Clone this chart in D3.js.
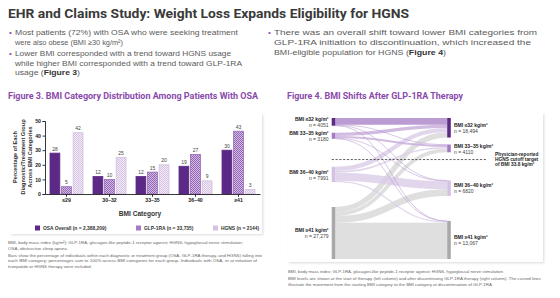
<!DOCTYPE html>
<html><head><meta charset="utf-8">
<script src="https://cdn.jsdelivr.net/npm/d3@7"></script>
<style>
body{margin:0;background:#fff}
svg{display:block}
text{font-family:"Liberation Sans",Arial,sans-serif}
</style>
</head><body><svg id="c" width="560" height="298"></svg>
<script>
// ---------------- DATA ----------------
const categories = ["≤29", "30–32", "33–35", "36–40", "≥41"];
const seriesNames = ["OSA Overall (n = 2,388,209)", "GLP-1RA (n = 33,735)", "HGNS (n = 2144)"];
const osaOverall = [28, 12, 12, 19, 30];
const glp1ra = [5, 10, 15, 27, 43];
const hgns = [42, 25, 20, 9, 3];
const yTicks = [0, 10, 20, 30, 40, 50];

const bmiGroups = ["BMI ≤32 kg/m²", "BMI 33–35 kg/m²", "BMI 36–40 kg/m²", "BMI ≥41 kg/m²"];
const startCounts = ["4051", "3180", "7991", "27,279"];
const endCounts = ["18,494", "4110", "6820", "13,067"];
// estimated flows (start group -> end group), read from band widths
const flowFromLe32 = [3500, 150, 250, 151];
const flowFrom33to35 = [1700, 1100, 250, 130];
const flowFrom36to40 = [2200, 900, 4200, 691];
const flowFromGe41 = [2841, 1946, 3493, 18999];

// ---------------- STYLE ----------------
const PURPLE = "#5c2a86", MID = "#a67bc4", LIGHT = "#d5c1e4", GREY = "#a9a9a9";
const nodeColors = [PURPLE, MID, LIGHT, GREY];
const linkColors = ["#ab85c8", "#c7acdb", "#dccde8", "#d8d8d8"];
const svg = d3.select("#c");

function T(g, x, y, parts, o = {}) {
  const t = g.append("text").attr("x", x).attr("y", y)
    .attr("font-size", o.size || 8).attr("fill", o.fill || "#555")
    .attr("font-weight", o.weight || 400).attr("text-anchor", o.anchor || "start");
  if (o.family) t.style("font-family", o.family);
  (Array.isArray(parts) ? parts : [[parts]]).forEach(p => {
    const s = t.append("tspan").text(p[0]);
    if (p[1]) for (const k in p[1]) s.attr(k, p[1][k]);
  });
  if (o.w) t.attr("textLength", o.w).attr("lengthAdjust", "spacingAndGlyphs");
  return t;
}

const defs = svg.append("defs");
const f = defs.append("filter").attr("id", "sh").attr("x", "-5%").attr("y", "-5%").attr("width", "110%").attr("height", "115%");
f.append("feDropShadow").attr("dx", 1.2).attr("dy", 1.2).attr("stdDeviation", 1).attr("flood-color", "#000").attr("flood-opacity", 0.13);
function pat(id, bg, dot) {
  const p = defs.append("pattern").attr("id", id).attr("width", 2).attr("height", 2).attr("patternUnits", "userSpaceOnUse");
  p.append("rect").attr("width", 2).attr("height", 2).attr("fill", bg);
  p.append("rect").attr("width", 1).attr("height", 1).attr("fill", dot);
  p.append("rect").attr("x", 1).attr("y", 1).attr("width", 1).attr("height", 1).attr("fill", dot);
}
pat("pGlp", "#d2bbe2", "#9466b4");
pat("pHg", "#f3ecf7", "#d6c3e4");

// ---------------- HEADER ----------------
T(svg, 8, 18, "EHR and Claims Study: Weight Loss Expands Eligibility for HGNS",
  { size: 13.5, weight: 700, fill: "#3a3a3a", family: "Roboto", w: 401 });

const bul = (x, y) => svg.append("text").attr("x", x).attr("y", y).attr("font-size", 8).attr("fill", "#8a55ad").text("•");
const BT = { size: 7.6, fill: "#5a5a5a" };
bul(9, 35); T(svg, 15, 35, "Most patients (72%) with OSA who were seeking treatment", { ...BT, w: 223 });
T(svg, 15, 44.5, "were also obese (BMI ≥30 kg/m²)", { ...BT, w: 108 });
bul(9, 56); T(svg, 15, 56, "Lower BMI corresponded with a trend toward HGNS usage", { ...BT, w: 216 });
T(svg, 15, 65.5, "while higher BMI corresponded with a trend toward GLP-1RA", { ...BT, w: 227 });
T(svg, 15, 75, [["usage ("], ["Figure 3", { "font-weight": 700, fill: "#333" }], [")"]], { ...BT, w: 65 });
bul(268, 35); T(svg, 274, 35, "There was an overall shift toward lower BMI categories from", { ...BT, w: 263 });
T(svg, 274, 45, "GLP-1RA initiation to discontinuation, which increased the", { ...BT, w: 257 });
T(svg, 274, 55, [["BMI-eligible population for HGNS ("], ["Figure 4", { "font-weight": 700, fill: "#333" }], [")"]], { ...BT, w: 172 });

T(svg, 8, 99, "Figure 3. BMI Category Distribution Among Patients With OSA",
  { size: 8.6, weight: 700, fill: "#8a4aab", family: "Roboto", w: 250 });
T(svg, 287, 99, "Figure 4. BMI Shifts After GLP-1RA Therapy",
  { size: 8.6, weight: 700, fill: "#8a4aab", family: "Roboto", w: 176 });

// ---------------- FIGURE 3 ----------------
svg.append("rect").attr("x", 10).attr("y", 114).attr("width", 252).attr("height", 120).attr("fill", "#fff").attr("filter", "url(#sh)");
const g3 = svg.append("g");
const x = d3.scaleBand().domain(categories).range([45, 260]);
const xs = d3.scaleBand().domain(seriesNames).range([5, 38]).paddingInner(0.15);
const y = d3.scaleLinear().domain([0, 50]).range([194, 121]);
const seriesVals = [osaOverall, glp1ra, hgns];
const barFill = [PURPLE, "url(#pGlp)", "url(#pHg)"];
const barStroke = [PURPLE, "#9a6bb9", "#d3bfe2"];

seriesNames.forEach((s, si) => {
  const gg = g3.append("g");
  gg.selectAll("rect").data(seriesVals[si]).join("rect")
    .attr("x", (d, i) => x(categories[i]) + xs(s)).attr("width", xs.bandwidth())
    .attr("y", d => y(d)).attr("height", d => y(0) - y(d))
    .attr("fill", barFill[si]).attr("stroke", barStroke[si]).attr("stroke-width", 0.8);
  gg.selectAll("text").data(seriesVals[si]).join("text")
    .attr("x", (d, i) => x(categories[i]) + xs(s) + xs.bandwidth() / 2).attr("y", d => y(d) - 2.5)
    .attr("text-anchor", "middle").attr("font-size", 5).attr("fill", "#444").text(d => d);
});

const ya = g3.append("g").attr("transform", "translate(45,0)")
  .call(d3.axisLeft(y).tickValues(yTicks).tickSize(2.5).tickPadding(1.5));
ya.select(".domain").attr("stroke", "#222").attr("stroke-width", 0.9);
ya.selectAll(".tick line").attr("stroke", "#222").attr("stroke-width", 0.9);
ya.selectAll("text").attr("font-size", 5.2).attr("font-weight", 700).attr("fill", "#222").style("font-family", "Liberation Sans, Arial");
const xa = g3.append("g").attr("transform", "translate(0,194)")
  .call(d3.axisBottom(x).tickSize(2.8).tickPadding(2).tickSizeOuter(0));
xa.select(".domain").attr("stroke", "#222").attr("stroke-width", 0.9);
xa.selectAll(".tick line").attr("stroke", "#222").attr("stroke-width", 0.9);
xa.selectAll("text").attr("font-size", 5.2).attr("font-weight", 700).attr("fill", "#222").style("font-family", "Liberation Sans, Arial");

["Percentage of Each", "Diagnostic/Treatment Group", "Across BMI Categories"].forEach((l, i) => {
  g3.append("text").attr("transform", `translate(${17 + i * 7.5},157) rotate(-90)`)
    .attr("text-anchor", "middle").attr("font-size", 5.6).attr("font-weight", 700).attr("fill", "#333").text(l);
});
T(g3, 140, 216, "BMI Category", { size: 6.6, weight: 700, fill: "#333", anchor: "middle" });

const legX = [35, 136, 213], legC = [PURPLE, MID, LIGHT];
seriesNames.forEach((s, i) => {
  g3.append("rect").attr("x", legX[i]).attr("y", 225.5).attr("width", 5).attr("height", 5).attr("fill", legC[i]);
  T(g3, legX[i] + 8, 230, s, { size: 4.9, weight: 700, fill: "#333" });
});

const FN = { size: 4.2, fill: "#666" };
T(svg, 8, 244, "BMI, body mass index (kg/m²); GLP-1RA, glucagon-like peptide-1 receptor agonist; HGNS, hypoglossal nerve stimulation;", { ...FN, w: 235 });
T(svg, 8, 250, "OSA, obstructive sleep apnea.", { ...FN, w: 60 });
T(svg, 8, 256.5, "Bars show the percentage of individuals within each diagnostic or treatment group (OSA, GLP-1RA therapy, and HGNS) falling into", { ...FN, w: 254 });
T(svg, 8, 262, "each BMI category; percentages sum to 100% across BMI categories for each group. Individuals with OSA, or at initiation of", { ...FN, w: 249 });
T(svg, 8, 267.5, "tirzepatide or HGNS therapy were included.", { ...FN, w: 84 });

// ---------------- FIGURE 4 (Sankey) ----------------
svg.append("rect").attr("x", 288).attr("y", 113).attr("width", 255).attr("height", 149).attr("fill", "#fff").attr("filter", "url(#sh)");
const g4 = svg.append("g");
const flows = [flowFromLe32, flowFrom33to35, flowFrom36to40, flowFromGe41];
const total = d3.sum(flows.flat());
const gaps = [7, 28, 25];
const colX = d3.scalePoint().domain(["start", "end"]).range([333.5, 449]);
const nodeW = 3.6;
const yTop = 118, yBottom = 259;
const hs = d3.scaleLinear().domain([0, total]).range([0, yBottom - yTop - d3.sum(gaps)]);
function layout(sums) {
  let yy = yTop;
  return sums.map((v, i) => { const n = { y0: yy, y1: yy + hs(v) }; yy = n.y1 + (gaps[i] || 0); return n; });
}
const L = layout(flows.map(r => d3.sum(r)));
const R = layout(bmiGroups.map((_, j) => d3.sum(flows, r => r[j])));
const lx1 = colX("start") + nodeW / 2, rx0 = colX("end") - nodeW / 2;

const links = [];
const tOff = R.map(n => n.y0);
flows.forEach((row, i) => {
  let sOff = L[i].y0;
  row.forEach((v, j) => {
    const w = hs(v);
    links.push({ i, j, w, sy: sOff + w / 2, ty: tOff[j] + w / 2 });
    sOff += w; tOff[j] += w;
  });
});
const lk = d3.linkHorizontal().x(d => d[0]).y(d => d[1]);
const order = [3, 2, 1, 0];
g4.append("g").selectAll("path").data(links.slice().sort((a, b) => order.indexOf(a.i) - order.indexOf(b.i))).join("path")
  .attr("d", d => lk({ source: [lx1, d.sy], target: [rx0, d.ty] }))
  .attr("fill", "none")
  .attr("stroke", d => d.w < 1.2 ? (d.i === 3 ? "#c8c8c8" : "#b698cf") : linkColors[d.i])
  .attr("stroke-opacity", d => d.w < 1.2 ? 0.9 : 0.82)
  .attr("stroke-width", d => Math.max(0.6, d.w));

[["start", L], ["end", R]].forEach(([c, nodes]) => {
  g4.append("g").selectAll("rect").data(nodes).join("rect")
    .attr("x", colX(c) - nodeW / 2).attr("width", nodeW)
    .attr("y", d => d.y0).attr("height", d => d.y1 - d.y0)
    .attr("fill", (d, i) => nodeColors[i]);
});

const SL = { size: 5, fill: "#222" };
L.forEach((n, i) => {
  const cy = (n.y0 + n.y1) / 2;
  T(g4, colX("start") - 5, cy - 0.8, bmiGroups[i], { ...SL, weight: 700, anchor: "end" });
  T(g4, colX("start") - 5, cy + 5.2, "n = " + startCounts[i], { ...SL, fill: "#444", anchor: "end" });
});
R.forEach((n, i) => {
  const cy = (n.y0 + n.y1) / 2;
  T(g4, colX("end") + 5, cy - 0.8, bmiGroups[i], { ...SL, weight: 700 });
  T(g4, colX("end") + 5, cy + 5.2, "n = " + endCounts[i], { ...SL, fill: "#444" });
});

const cutY = (d3.max([L[1].y1, R[1].y1]) + d3.min([L[2].y0, R[2].y0])) / 2;
g4.append("line").attr("x1", lx1 - nodeW).attr("x2", 486).attr("y1", cutY).attr("y2", cutY)
  .attr("stroke", "#333").attr("stroke-width", 0.8).attr("stroke-dasharray", "2.2,1.6");
["Physician-reported", "HGNS cutoff target", "of BMI 33.8 kg/m²"].forEach((l, i) => {
  T(g4, 495, cutY - 4 + i * 5.2, l, { size: 4.8, weight: 700, fill: "#222" });
});

T(svg, 288, 273, "BMI, body mass index; GLP-1RA, glucagon-like peptide-1 receptor agonist; HGNS, hypoglossal nerve stimulation.", { ...FN, w: 216 });
T(svg, 288, 280, "BMI levels are shown at the start of therapy (left column) and after discontinuing GLP-1RA therapy (right column). The curved lines", { ...FN, w: 253 });
T(svg, 288, 285.5, "illustrate the movement from the starting BMI category to the BMI category at discontinuation of GLP-1RA.", { ...FN, w: 205 });
</script>
</body></html>
